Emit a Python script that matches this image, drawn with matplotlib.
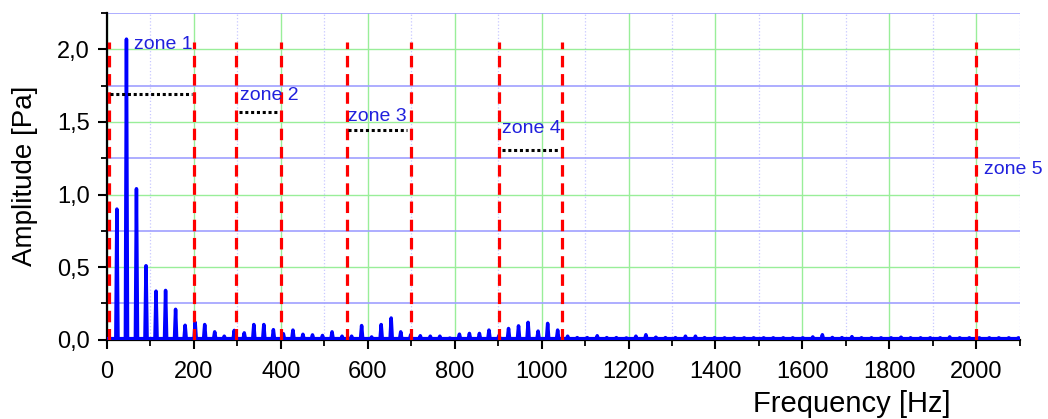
import matplotlib.pyplot as plt
import numpy as np
from matplotlib.ticker import MultipleLocator, FuncFormatter

plt.rcParams['font.family'] = ['Liberation Sans', 'DejaVu Sans']

# harmonic peaks of the spectrum (Hz, Pa)
freqs = np.array([23, 45, 68, 90, 113, 135, 158, 180, 203, 225, 248, 270, 293, 316, 338,
                  361, 383, 406, 428, 451, 473, 496, 518, 541, 563, 586, 609, 631, 654, 676,
                  699, 721, 744, 766, 789, 811, 834, 857, 879, 902, 924, 947, 969, 992, 1014,
                  1037, 1060, 1082, 1105, 1128, 1150, 1172, 1195, 1217, 1240, 1263, 1285, 1308,
                  1331, 1354, 1375, 1398, 1421, 1443, 1466, 1488, 1511, 1533, 1556, 1578, 1601,
                  1624, 1646, 1669, 1691, 1714, 1736, 1759, 1781, 1804, 1827, 1849, 1872, 1894,
                  1917, 1939, 1962, 1984, 2007, 2030, 2052, 2075, 2097])
amps = np.array([0.90, 2.07, 1.04, 0.51, 0.335, 0.34, 0.21, 0.10, 0.12, 0.105, 0.055, 0.025,
                 0.065, 0.048, 0.105, 0.105, 0.07, 0.042, 0.067, 0.038, 0.034, 0.03, 0.055,
                 0.025, 0.025, 0.098, 0.02, 0.105, 0.15, 0.055, 0.035, 0.028, 0.025, 0.025,
                 0.012, 0.039, 0.044, 0.044, 0.067, 0.03, 0.078, 0.096, 0.12, 0.06, 0.113,
                 0.067, 0.025, 0.015, 0.015, 0.028, 0.015, 0.015, 0.013, 0.025, 0.035, 0.018,
                 0.015, 0.015, 0.025, 0.025, 0.015, 0.015, 0.014, 0.014, 0.014, 0.014, 0.014,
                 0.014, 0.014, 0.014, 0.014, 0.02, 0.035, 0.016, 0.015, 0.022, 0.014, 0.014,
                 0.014, 0.014, 0.018, 0.014, 0.014, 0.014, 0.014, 0.02, 0.014, 0.014, 0.014,
                 0.014, 0.014, 0.014, 0.014])
floor = 0.008

# zone limits and zone mean levels
boundaries = [5, 200, 298, 400, 552, 700, 902, 1048, 2000]
mean_start = [8, 304, 555, 908]
mean_end = [195, 394, 690, 1043]
mean_level = [1.69, 1.565, 1.441, 1.306]
zone_names = ['zone 1', 'zone 2', 'zone 3', 'zone 4', 'zone 5']
zone_x = [62, 307, 555, 908, 2018]
zone_y = [2.03, 1.68, 1.535, 1.456, 1.175]

fig = plt.figure(figsize=(10.48, 4.19), dpi=100)
ax = fig.add_axes([0.102, 0.189, 0.871, 0.780])

# spectrum line: floor -> peak -> floor for each harmonic
hw = 2.5
xs = [0]
ys = [floor]
for f, a in zip(freqs, amps):
    xs += [f - hw, f, f + hw]
    ys += [floor, a, floor]
xs.append(2100)
ys.append(floor)
ax.plot(xs, ys, color='#0000ff', lw=2.5, zorder=4, solid_joinstyle='round')

for b in boundaries:
    ax.plot([b, b], [0, 2.05], color='#ff0000', lw=2.3, dashes=(3.6, 2.1), zorder=5)

for s, e, m in zip(mean_start, mean_end, mean_level):
    ax.plot([s, e], [m, m], color='black', lw=2.2, dashes=(1.0, 0.9), zorder=5)

for name, zx, zy in zip(zone_names, zone_x, zone_y):
    ax.text(zx, zy, name, color='#2020dd', fontsize=14, ha='left', va='center', zorder=6)

ax.set_xlim(0, 2100)
ax.set_ylim(0, 2.25)
ax.xaxis.set_major_locator(MultipleLocator(200))
ax.xaxis.set_minor_locator(MultipleLocator(100))
ax.yaxis.set_major_locator(MultipleLocator(0.5))
ax.yaxis.set_minor_locator(MultipleLocator(0.25))
ax.yaxis.set_major_formatter(FuncFormatter(lambda v, p: f'{v:.1f}'.replace('.', ',')))

ax.grid(which='major', color='#99ee99', lw=1.0, zorder=0)
ax.grid(which='minor', axis='y', color='#a0a0ff', lw=1.2, zorder=0)
ax.grid(which='minor', axis='x', color='#c8c8ff', lw=0.9, ls=':', zorder=0)
ax.set_axisbelow(True)

for side in ['top', 'right']:
    ax.spines[side].set_visible(False)
for side in ['left', 'bottom']:
    ax.spines[side].set_linewidth(1.6)
ax.tick_params(which='major', direction='out', length=6.5, width=1.5, labelsize=17)
ax.tick_params(which='minor', direction='out', length=4, width=1.3)
ax.tick_params(axis='x', which='major', pad=9)
ax.tick_params(axis='y', which='major', pad=6)

fig.text(25 / 1048, 1 - 176 / 419, 'Amplitude [Pa]', rotation=90, fontsize=20,
         ha='center', va='center')
fig.text(852 / 1048, 1 - 404 / 419, 'Frequency [Hz]', fontsize=21, ha='center', va='center')

fig.savefig('out.png', dpi=100)
